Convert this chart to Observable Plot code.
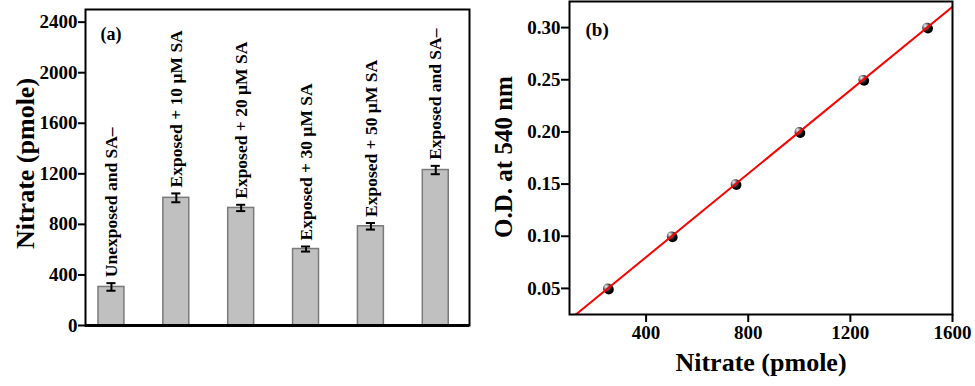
<!DOCTYPE html>
<html>
<head>
<meta charset="utf-8">
<script src="https://cdn.jsdelivr.net/npm/d3@7"></script>
<script src="https://cdn.jsdelivr.net/npm/@observablehq/plot@0.6"></script>
<style>
  html, body { margin: 0; padding: 0; background: #fff; }
  #wrap { display: flex; width: 975px; height: 386px; }
  svg { overflow: visible; }
  g[aria-label^="y-axis"] line, g[aria-label^="x-axis"] line,
  g[aria-label="y-axis tick"] path, g[aria-label="x-axis tick"] path { stroke-width: 2px; }
</style>
</head>
<body>
<div id="wrap"></div>
<script>
// Panel (a): nitrate content
const categories = ["Unexposed and SA–", "Exposed + 10 µM SA", "Exposed + 20 µM SA", "Exposed + 30 µM SA", "Exposed + 50 µM SA", "Exposed and SA–"];
const nitrate = [305, 1010, 930, 605, 785, 1230];
const nitrateErr = [30, 35, 25, 20, 26, 33];
const yTicksA = [0, 400, 800, 1200, 1600, 2000, 2400];

// Panel (b): standard curve
const stdNitrate = [250, 500, 750, 1000, 1250, 1500];
const stdOD = [0.05, 0.10, 0.15, 0.20, 0.25, 0.30];
const fitX = [100, 1600];
const fitOD = [0.02, 0.32];
const xTicksB = [400, 800, 1200, 1600];
const yTicksB = [0.05, 0.10, 0.15, 0.20, 0.25, 0.30];

const font = "'Liberation Serif', 'Times New Roman', serif";
const rowsA = categories.map((c, i) => ({pos: i + 1, name: c, value: nitrate[i], err: nitrateErr[i]}));
const rowsB = stdNitrate.map((x, i) => ({x, y: stdOD[i]}));
const fitRows = fitX.map((x, i) => ({x, y: fitOD[i]}));

const chartA = Plot.plot({
  width: 487, height: 386,
  marginLeft: 85, marginRight: 18, marginTop: 9, marginBottom: 61,
  style: {fontFamily: font, fontWeight: "bold", fontSize: "19px", color: "#000", background: "#fff"},
  x: {type: "linear", domain: [0.6, 6.52], axis: null},
  y: {domain: [0, 2500], ticks: yTicksA, tickFormat: "d", tickSize: 7, tickPadding: 1, label: null},
  marks: [
    Plot.rectY(rowsA, {x1: d => d.pos - 0.2, x2: d => d.pos + 0.2, y1: 0, y2: "value", fill: "#c0c0c0", stroke: "#7a7a7a", strokeWidth: 1.5}),
    Plot.ruleX(rowsA, {x: "pos", y1: d => d.value - d.err, y2: d => d.value + d.err, stroke: "#000", strokeWidth: 2}),
    Plot.ruleY(rowsA, {y: d => d.value - d.err, x1: d => d.pos - 0.07, x2: d => d.pos + 0.07, stroke: "#000", strokeWidth: 2}),
    Plot.ruleY(rowsA, {y: d => d.value + d.err, x1: d => d.pos - 0.07, x2: d => d.pos + 0.07, stroke: "#000", strokeWidth: 2}),
    Plot.text(rowsA, {x: "pos", y: d => d.value + d.err, text: "name", rotate: -90, textAnchor: "start", lineAnchor: "middle", dy: -6, fontSize: 17.5, fontWeight: "bold", fill: "#000"}),
    Plot.frame({stroke: "#000", strokeWidth: 2}),
    Plot.ruleY([0], {stroke: "#000", strokeWidth: 3}),
    Plot.text(["(a)"], {frameAnchor: "top-left", text: d => d, dx: 15, dy: 25, lineAnchor: "middle", textAnchor: "start", fontSize: 18, fontWeight: "bold", fill: "#000"}),
    Plot.text(["Nitrate (pmole)"], {frameAnchor: "left", text: d => d, dx: -60, dy: -4, rotate: -90, textAnchor: "middle", lineAnchor: "middle", fontSize: 26, fontWeight: "bold", fill: "#000"})
  ]
});

const chartB = Plot.plot({
  width: 488, height: 386,
  marginLeft: 82, marginRight: 23, marginTop: 1, marginBottom: 72,
  style: {fontFamily: font, fontWeight: "bold", fontSize: "19px", color: "#000", background: "#fff"},
  x: {domain: [100, 1600], ticks: xTicksB, tickFormat: "d", tickSize: 8, tickPadding: 3, label: null},
  y: {domain: [0.025, 0.325], ticks: yTicksB, tickFormat: ".2f", tickSize: 8, tickPadding: 1, label: null},
  marks: [
    Plot.dot(rowsB, {x: "x", y: "y", r: 5, fill: "#000", dx: 1, dy: 1}),
    Plot.dot(rowsB, {x: "x", y: "y", r: 4.8, fill: "url(#sphereGrad)"}),
    Plot.line(fitRows, {x: "x", y: "y", stroke: "#ff0000", strokeWidth: 2, clip: true}),
    Plot.frame({stroke: "#000", strokeWidth: 2}),
    Plot.text(["(b)"], {frameAnchor: "top-left", text: d => d, dx: 16, dy: 28, lineAnchor: "middle", textAnchor: "start", fontSize: 19, fontWeight: "bold", fill: "#000"}),
    Plot.text(["O.D. at 540 nm"], {frameAnchor: "left", text: d => d, dx: -66, dy: -1, rotate: -90, textAnchor: "middle", lineAnchor: "middle", fontSize: 25, fontWeight: "bold", fill: "#000"}),
    Plot.text(["Nitrate (pmole)"], {frameAnchor: "bottom", text: d => d, dy: 48, textAnchor: "middle", lineAnchor: "middle", fontSize: 26, fontWeight: "bold", fill: "#000"})
  ]
});

// gradient for shaded spheres
const svgB = chartB.tagName.toLowerCase() === "svg" ? chartB : chartB.querySelector("svg");
const defs = d3.select(svgB).insert("defs", ":first-child");
const grad = defs.append("radialGradient").attr("id", "sphereGrad").attr("cx", "40%").attr("cy", "40%").attr("r", "60%").attr("fx", "30%").attr("fy", "28%");
grad.append("stop").attr("offset", "0%").attr("stop-color", "#f2f2f2");
grad.append("stop").attr("offset", "35%").attr("stop-color", "#9a9a9a");
grad.append("stop").attr("offset", "75%").attr("stop-color", "#222");
grad.append("stop").attr("offset", "100%").attr("stop-color", "#000");

document.getElementById("wrap").append(chartA, chartB);
</script>
</body>
</html>
